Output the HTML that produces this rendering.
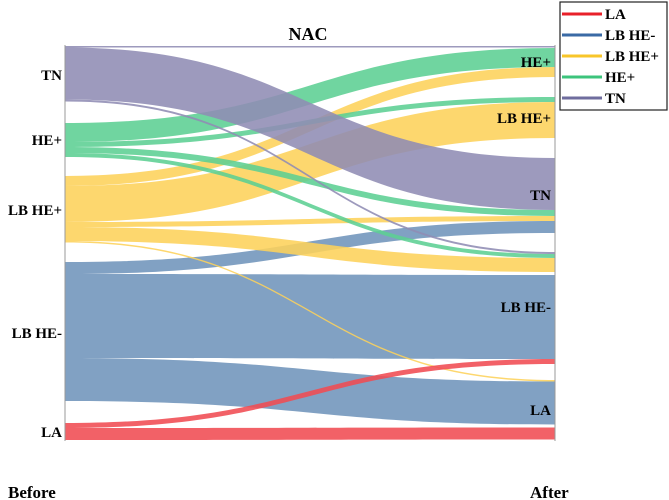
<!DOCTYPE html>
<html><head><meta charset="utf-8"><style>
html,body{margin:0;padding:0;background:#fff;}
svg{display:block;font-family:"Liberation Serif",serif;font-weight:bold;}
</style></head><body>
<svg id="chart" width="669" height="500" viewBox="0 0 669 500">
<g id="flows"></g>
<line x1="65" y1="45" x2="65" y2="441" stroke="#999" stroke-width="1"/>
<line x1="555" y1="45" x2="555" y2="441" stroke="#999" stroke-width="1"/>
<text x="308" y="40" font-size="18" text-anchor="middle">NAC</text>
<g font-size="15" text-anchor="end">
<text x="62" y="80">TN</text>
<text x="62" y="145">HE+</text>
<text x="62" y="215">LB HE+</text>
<text x="62" y="338">LB HE-</text>
<text x="62" y="437">LA</text>
</g>
<g font-size="15" text-anchor="end">
<text x="551" y="67">HE+</text>
<text x="551" y="123">LB HE+</text>
<text x="551" y="200">TN</text>
<text x="551" y="312">LB HE-</text>
<text x="551" y="415">LA</text>
</g>
<text x="8" y="498" font-size="17">Before</text>
<text x="530" y="498" font-size="17">After</text>
<g>
<rect x="560" y="2" width="107" height="108" fill="#fff" stroke="#222" stroke-width="1.2"/>
<g id="legend-items"></g>
</g>
</svg>
<script>
const categories = ["TN","HE+","LB HE+","LB HE-","LA"];
const flowSource = [0,0,0, 1,1,1,1, 2,2,2,2,2, 3,3,3, 4,4];
const flowTarget = [1,0,3, 1,2,0,3, 1,2,0,3,4, 0,3,4, 3,4];
const flowValues = [1.5,52,2, 19,5,6,4, 10,36,5,14,1.5, 12,84,43, 5,12];
const rightOrder = [0,3,7,4,8,1,5,9,12,2,6,10,13,15,11,14,16];

// layout (not data)
const leftTop = 46, leftGaps = [21.5,19,19.5,22];
const rightTop = 46, rightGapBefore = [0,0.5,0,20,0,20,0,0,0,19,0,0,3,0,16,0,3];
const fillColors = ["#8f8cb4","#5ccf93","#fdd25a","#7094bb","#f04b52"];
const legendColors = ["#6f6d9e","#3cc47c","#f8c62a","#3a6aa5","#e8202a"];
const X0 = 65, X1 = 555, scale = 1;

const NS = "http://www.w3.org/2000/svg";
const ly = [], ry = [];
let y = leftTop;
for (let c = 0; c < categories.length; c++) {
  for (let i = 0; i < flowValues.length; i++) {
    if (flowSource[i] === c) { ly[i] = y; y += flowValues[i] * scale; }
  }
  if (c < leftGaps.length) y += leftGaps[c];
}
y = rightTop;
rightOrder.forEach((fi, k) => { y += rightGapBefore[k]; ry[fi] = y; y += flowValues[fi] * scale; });

const g = document.getElementById("flows");
const drawOrder = [12,13,14,7,8,9,10,11,3,4,5,6,0,1,2,15,16];
const xm = (X0 + X1) / 2;
drawOrder.forEach(i => {
  const w = flowValues[i] * scale;
  const a = ly[i], b = ry[i];
  const d = `M${X0},${a} C${xm},${a} ${xm},${b} ${X1},${b} L${X1},${b+w} C${xm},${b+w} ${xm},${a+w} ${X0},${a+w} Z`;
  const p = document.createElementNS(NS, "path");
  p.setAttribute("d", d);
  p.setAttribute("fill", fillColors[flowSource[i]]);
  p.setAttribute("fill-opacity", "0.88");
  
  
  g.appendChild(p);
});

const legendOrder = [4,3,2,1,0];
const lg = document.getElementById("legend-items");
legendOrder.forEach((c, k) => {
  const yy = 14 + k * 21;
  const l = document.createElementNS(NS, "line");
  l.setAttribute("x1", 562); l.setAttribute("x2", 602);
  l.setAttribute("y1", yy); l.setAttribute("y2", yy);
  l.setAttribute("stroke", legendColors[c]); l.setAttribute("stroke-width", 3);
  
  
  lg.appendChild(l);
  const t = document.createElementNS(NS, "text");
  t.setAttribute("x", 605); t.setAttribute("y", yy + 5);
  t.setAttribute("font-size", "15");
  t.textContent = categories[c];
  
  
  lg.appendChild(t);
});
</script>
</body></html>
